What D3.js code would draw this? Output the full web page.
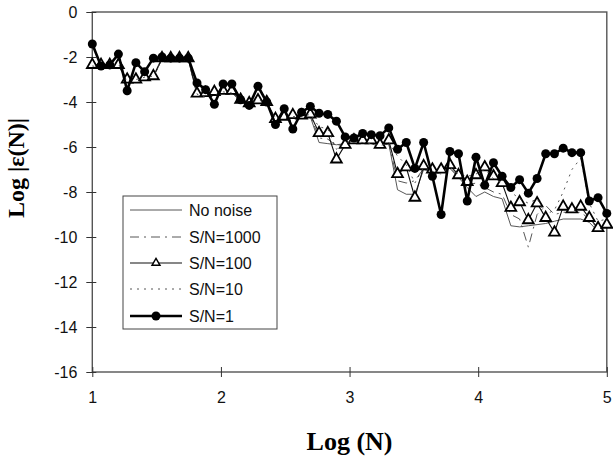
<!DOCTYPE html>
<html>
<head>
<meta charset="utf-8">
<script src="https://cdn.jsdelivr.net/npm/d3@7"></script>
<style>
  body { margin: 0; background: #fff; }
  svg { display: block; }
</style>
</head>
<body>
<svg id="chart" width="613" height="459"></svg>
<script>
// Log(N) sample positions
const logN = [1.000, 1.068, 1.136, 1.203, 1.271, 1.339, 1.407, 1.475, 1.542, 1.610,
  1.678, 1.746, 1.814, 1.881, 1.949, 2.017, 2.085, 2.153, 2.220, 2.288,
  2.356, 2.424, 2.492, 2.559, 2.627, 2.695, 2.763, 2.831, 2.898, 2.966,
  3.034, 3.102, 3.169, 3.237, 3.305, 3.373, 3.441, 3.508, 3.576, 3.644,
  3.712, 3.780, 3.847, 3.915, 3.983, 4.051, 4.119, 4.186, 4.254, 4.322,
  4.390, 4.458, 4.525, 4.593, 4.661, 4.729, 4.797, 4.864, 4.932, 5.000];

const noNoise = [-2.4, -2.4, -2.4, -2.4, -3.05, -3.05, -2.95, -2.9, -2.1, -2.1, -2.1, -2.1,
  -3.7, -3.7, -3.65, -3.6, -3.6, -3.95, -4.1, -4.0, -4.05,
  -4.85, -4.75, -4.7, -4.7, -4.65, -5.8, -5.85, -5.9,
  -5.85, -5.8, -5.8, -5.8, -5.95, -5.85,
  -7.9, -8.1, -8.1, -7.0, -7.1, -7.1, -6.95, -7.35,
  -7.8, -8.2, -8.0, -8.2, -8.3,
  -9.5, -9.55, -9.5, -9.45, -9.4, -9.3,
  -9.2, -9.2, -9.2, -9.35, -9.75, -9.5];

const sn1000 = [-2.4, -2.4, -2.4, -2.4, -3.05, -3.05, -2.95, -2.9, -2.1, -2.1, -2.1, -2.1,
  -3.7, -3.75, -3.6, -3.6, -3.55, -3.95, -4.1, -4.0, -4.05,
  -4.8, -4.7, -4.7, -4.7, -4.6, -5.6, -5.65, -5.95,
  -5.85, -5.8, -5.75, -5.85, -6.0, -5.85,
  -7.5, -7.6, -7.5, -6.95, -7.05, -7.1, -6.9, -7.3,
  -7.7, -7.6, -7.8, -8.0, -8.1,
  -9.0, -9.2, -10.45, -9.0, -8.6, -9.0,
  -8.9, -8.9, -8.9, -9.2, -9.65, -9.45];

const sn100 = [-2.35, -2.35, -2.35, -2.35, -3.0, -3.0, -2.9, -2.85, -2.05, -2.05, -2.05, -2.05,
  -3.62, -3.6, -3.55, -3.5, -3.5, -3.9, -4.05, -3.92, -4.0, -4.75, -4.65, -4.58,
  -4.6, -4.55, -5.38, -5.38, -6.55, -5.9, -5.7, -5.7, -5.7, -5.9, -5.7, -7.2,
  -6.9, -8.25, -6.85, -7.0, -7.0, -6.8, -7.25, -7.55, -7.25, -6.9, -7.3, -7.6,
  -8.7, -8.45, -9.25, -8.5, -9.15, -9.8, -8.65, -8.77, -8.65, -9.15, -9.6, -9.45];

const sn10 = [-2.4, -2.45, -2.4, -2.3, -3.1, -3.0, -2.9, -2.85, -2.1, -2.1, -2.1, -2.1,
  -3.65, -3.8, -3.7, -3.55, -3.6, -3.95, -4.1, -3.9, -4.05,
  -4.7, -4.7, -4.65, -4.65, -4.55, -5.1, -5.2, -6.1,
  -5.8, -5.75, -5.8, -5.85, -5.95, -5.8,
  -6.4, -6.8, -7.6, -6.9, -7.1, -7.2, -6.9, -7.2,
  -7.3, -7.2, -7.0, -7.4, -7.6,
  -8.0, -8.3, -8.5, -8.3, -9.0, -8.8,
  -8.0, -7.0, -6.5, -8.5, -9.3, -9.2];

const sn1 = [-1.42, -2.4, -2.35, -1.87, -3.5, -2.25, -2.65, -2.05, -2.0, -2.05, -2.05, -2.05,
  -3.15, -3.45, -4.1, -3.2, -3.2, -3.9, -4.15, -3.3, -4.0, -5.0, -4.3, -5.2,
  -4.45, -4.2, -4.5, -4.55, -4.85, -5.55, -5.6, -5.4, -5.45, -5.5, -5.15, -6.1,
  -5.8, -6.95, -5.8, -7.3, -9.0, -6.2, -6.3, -8.4, -6.45, -7.7, -6.7, -7.3,
  -7.8, -7.45, -8.05, -7.4, -6.3, -6.3, -6.05, -6.25, -6.25, -8.4, -8.25, -8.95];

const xTicks = [1, 2, 3, 4, 5];
const yTicks = [0, -2, -4, -6, -8, -10, -12, -14, -16];
const legendLabels = ['No noise', 'S/N=1000', 'S/N=100', 'S/N=10', 'S/N=1'];

const svg = d3.select('#chart');
const plotLeft = 92.3, plotRight = 606.8, plotTop = 12, plotBottom = 372;

const x = d3.scaleLinear().domain([1, 5]).range([plotLeft, plotRight]);
const y = d3.scaleLinear().domain([0, -16]).range([plotTop, plotBottom]);

// frame
svg.append('rect')
  .attr('x', plotLeft).attr('y', plotTop)
  .attr('width', plotRight - plotLeft).attr('height', plotBottom - plotTop)
  .attr('fill', 'none').attr('stroke', '#555').attr('stroke-width', 1.4);

// axes
const yAxis = svg.append('g')
  .attr('transform', `translate(${plotLeft},0)`)
  .call(d3.axisLeft(y).tickValues(yTicks).tickSize(6).tickPadding(9).tickFormat(d => String(d)));
yAxis.select('.domain').remove();
yAxis.selectAll('line').attr('x1', 4).attr('stroke', '#333');
yAxis.selectAll('text')
  .attr('font-family', 'Liberation Sans, Arial, sans-serif')
  .attr('font-size', 16).attr('fill', '#111');

const xAxis = svg.append('g')
  .attr('transform', `translate(0,${plotBottom})`)
  .call(d3.axisBottom(x).tickValues(xTicks).tickSize(5).tickPadding(15).tickFormat(d => String(d)));
xAxis.select('.domain').remove();
xAxis.selectAll('line').attr('y1', -5).attr('stroke', '#333');
xAxis.selectAll('text')
  .attr('font-family', 'Liberation Sans, Arial, sans-serif')
  .attr('font-size', 16).attr('fill', '#111');

// titles
svg.append('text')
  .attr('x', x(3)).attr('y', 450)
  .attr('text-anchor', 'middle')
  .attr('font-family', 'Liberation Serif, Times New Roman, serif')
  .attr('font-weight', 'bold').attr('font-size', 26)
  .text('Log (N)');

svg.append('text')
  .attr('transform', 'translate(24,168) rotate(-90)')
  .attr('text-anchor', 'middle')
  .attr('font-family', 'Liberation Serif, Times New Roman, serif')
  .attr('font-weight', 'bold').attr('font-size', 24)
  .text('Log |ε(N)|');

// series
const series = [
  { name: legendLabels[0], values: noNoise, width: 0.9, dash: null, color: '#444' },
  { name: legendLabels[1], values: sn1000, width: 0.9, dash: '9,5,2,5', color: '#444' },
  { name: legendLabels[2], values: sn100, width: 1.1, dash: null, color: '#111', marker: 'triangle' },
  { name: legendLabels[3], values: sn10, width: 0.9, dash: '2,5', color: '#444' },
  { name: legendLabels[4], values: sn1, width: 2.6, dash: null, color: '#000', marker: 'circle' }
];

const line = d3.line()
  .x(d => x(d[0]))
  .y(d => y(d[1]));

const tri = d3.symbol().type(d3.symbolTriangle).size(50);

series.forEach(s => {
  const pts = logN.map((n, i) => [n, s.values[i]]);
  svg.append('path')
    .datum(pts)
    .attr('d', line)
    .attr('fill', 'none')
    .attr('stroke', s.color)
    .attr('stroke-width', s.width)
    .attr('stroke-dasharray', s.dash);

  if (s.marker === 'triangle') {
    svg.append('g').selectAll('path')
      .data(pts)
      .join('path')
      .attr('d', tri)
      .attr('transform', d => `translate(${x(d[0])},${y(d[1])})`)
      .attr('fill', '#fff')
      .attr('stroke', '#000')
      .attr('stroke-width', 1.8);
  }
  if (s.marker === 'circle') {
    svg.append('g').selectAll('circle')
      .data(pts)
      .join('circle')
      .attr('cx', d => x(d[0]))
      .attr('cy', d => y(d[1]))
      .attr('r', 4.5)
      .attr('fill', '#000');
  }
});

// legend
const lg = svg.append('g');
lg.append('rect')
  .attr('x', 123).attr('y', 196)
  .attr('width', 154).attr('height', 133)
  .attr('fill', '#fff').attr('stroke', '#444').attr('stroke-width', 1);

const rowY = [210, 237, 263, 289, 316];
series.forEach((s, i) => {
  const yy = rowY[i];
  lg.append('line')
    .attr('x1', 130).attr('x2', 182)
    .attr('y1', yy).attr('y2', yy)
    .attr('stroke', s.color)
    .attr('stroke-width', s.width)
    .attr('stroke-dasharray', s.dash);
  if (s.marker === 'triangle') {
    lg.append('path')
      .attr('d', d3.symbol().type(d3.symbolTriangle).size(28)())
      .attr('transform', `translate(156,${yy})`)
      .attr('fill', '#fff').attr('stroke', '#000').attr('stroke-width', 1.4);
  }
  if (s.marker === 'circle') {
    lg.append('circle')
      .attr('cx', 156).attr('cy', yy).attr('r', 4.5).attr('fill', '#000');
  }
  lg.append('text')
    .attr('x', 189).attr('y', yy)
    .attr('dy', '0.35em')
    .attr('font-family', 'Liberation Sans, Arial, sans-serif')
    .attr('font-size', 16).attr('fill', '#111')
    .text(s.name);
});
</script>
</body>
</html>
